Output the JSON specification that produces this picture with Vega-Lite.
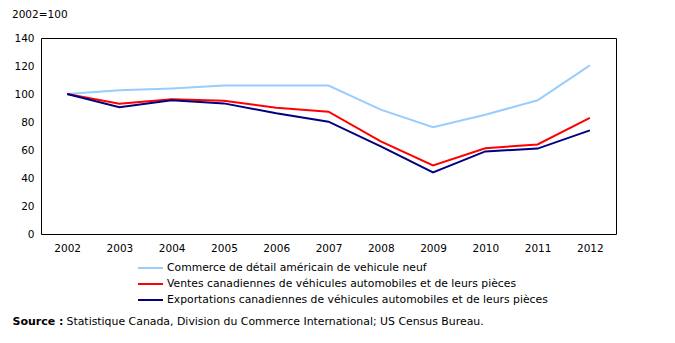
{
  "$schema": "https://vega.github.io/schema/vega-lite/v6.json",
  "width": 575,
  "height": 196,
  "autosize": {"type": "none"},
  "padding": {"left": 41, "top": 38, "right": 59, "bottom": 109},
  "background": "white",
  "config": {
    "font": "DejaVu Sans",
    "view": {"stroke": "black", "strokeWidth": 1},
    "axis": {"grid": false, "domain": false, "ticks": false, "labelFont": "DejaVu Sans", "labelFontSize": 10.5, "labelColor": "black"},
    "legend": {"labelFont": "DejaVu Sans", "labelFontSize": 10.8, "labelColor": "black"}
  },
  "title": {
    "text": "2002=100",
    "anchor": "start",
    "frame": "group",
    "dx": -29,
    "offset": 13,
    "fontSize": 10.5,
    "fontWeight": "normal",
    "color": "black"
  },
  "data": {
    "values": [
      {"annee": "2002", "serie": "Commerce de détail américain de vehicule neuf", "indice": 100},
      {"annee": "2003", "serie": "Commerce de détail américain de vehicule neuf", "indice": 102.6},
      {"annee": "2004", "serie": "Commerce de détail américain de vehicule neuf", "indice": 104},
      {"annee": "2005", "serie": "Commerce de détail américain de vehicule neuf", "indice": 106},
      {"annee": "2006", "serie": "Commerce de détail américain de vehicule neuf", "indice": 106},
      {"annee": "2007", "serie": "Commerce de détail américain de vehicule neuf", "indice": 106},
      {"annee": "2008", "serie": "Commerce de détail américain de vehicule neuf", "indice": 88.8},
      {"annee": "2009", "serie": "Commerce de détail américain de vehicule neuf", "indice": 76.2},
      {"annee": "2010", "serie": "Commerce de détail américain de vehicule neuf", "indice": 85.2},
      {"annee": "2011", "serie": "Commerce de détail américain de vehicule neuf", "indice": 95.5},
      {"annee": "2012", "serie": "Commerce de détail américain de vehicule neuf", "indice": 120.5},
      {"annee": "2002", "serie": "Ventes canadiennes de véhicules automobiles et de leurs pièces", "indice": 100},
      {"annee": "2003", "serie": "Ventes canadiennes de véhicules automobiles et de leurs pièces", "indice": 93.1},
      {"annee": "2004", "serie": "Ventes canadiennes de véhicules automobiles et de leurs pièces", "indice": 96.2},
      {"annee": "2005", "serie": "Ventes canadiennes de véhicules automobiles et de leurs pièces", "indice": 95.2},
      {"annee": "2006", "serie": "Ventes canadiennes de véhicules automobiles et de leurs pièces", "indice": 90.2},
      {"annee": "2007", "serie": "Ventes canadiennes de véhicules automobiles et de leurs pièces", "indice": 87.4},
      {"annee": "2008", "serie": "Ventes canadiennes de véhicules automobiles et de leurs pièces", "indice": 66.2},
      {"annee": "2009", "serie": "Ventes canadiennes de véhicules automobiles et de leurs pièces", "indice": 49},
      {"annee": "2010", "serie": "Ventes canadiennes de véhicules automobiles et de leurs pièces", "indice": 61.2},
      {"annee": "2011", "serie": "Ventes canadiennes de véhicules automobiles et de leurs pièces", "indice": 64},
      {"annee": "2012", "serie": "Ventes canadiennes de véhicules automobiles et de leurs pièces", "indice": 82.9},
      {"annee": "2002", "serie": "Exportations canadiennes de véhicules automobiles et de leurs pièces", "indice": 100},
      {"annee": "2003", "serie": "Exportations canadiennes de véhicules automobiles et de leurs pièces", "indice": 90.5},
      {"annee": "2004", "serie": "Exportations canadiennes de véhicules automobiles et de leurs pièces", "indice": 95.5},
      {"annee": "2005", "serie": "Exportations canadiennes de véhicules automobiles et de leurs pièces", "indice": 93.3},
      {"annee": "2006", "serie": "Exportations canadiennes de véhicules automobiles et de leurs pièces", "indice": 86.2},
      {"annee": "2007", "serie": "Exportations canadiennes de véhicules automobiles et de leurs pièces", "indice": 80.2},
      {"annee": "2008", "serie": "Exportations canadiennes de véhicules automobiles et de leurs pièces", "indice": 62.6},
      {"annee": "2009", "serie": "Exportations canadiennes de véhicules automobiles et de leurs pièces", "indice": 44},
      {"annee": "2010", "serie": "Exportations canadiennes de véhicules automobiles et de leurs pièces", "indice": 59},
      {"annee": "2011", "serie": "Exportations canadiennes de véhicules automobiles et de leurs pièces", "indice": 61},
      {"annee": "2012", "serie": "Exportations canadiennes de véhicules automobiles et de leurs pièces", "indice": 74}
    ]
  },
  "mark": {"type": "line", "strokeWidth": 2},
  "encoding": {
    "x": {
      "field": "annee",
      "type": "ordinal",
      "scale": {"type": "point", "padding": 0.5},
      "axis": {
        "labelAngle": 0,
        "labelPadding": 9,
        "title": "Statistique Canada, Division du Commerce International; US Census Bureau.",
        "titleFont": "DejaVu Sans",
        "titleFontSize": 10.9,
        "titleFontWeight": "normal",
        "titleColor": "black",
        "titleAlign": "left",
        "titleBaseline": "middle",
        "titleAnchor": "start",
        "titleX": 25,
        "titleY": 87
      }
    },
    "y": {
      "field": "indice",
      "type": "quantitative",
      "scale": {"domain": [0, 140]},
      "axis": {
        "values": [0, 20, 40, 60, 80, 100, 120, 140],
        "labelPadding": 7,
        "title": "Source :",
        "titleAngle": 0,
        "titleFont": "DejaVu Sans",
        "titleFontSize": 11,
        "titleFontWeight": "bold",
        "titleColor": "black",
        "titleAlign": "left",
        "titleBaseline": "middle",
        "titleX": -29,
        "titleY": 283
      }
    },
    "color": {
      "field": "serie",
      "type": "nominal",
      "sort": [
        "Commerce de détail américain de vehicule neuf",
        "Ventes canadiennes de véhicules automobiles et de leurs pièces",
        "Exportations canadiennes de véhicules automobiles et de leurs pièces"
      ],
      "scale": {
        "domain": [
          "Commerce de détail américain de vehicule neuf",
          "Ventes canadiennes de véhicules automobiles et de leurs pièces",
          "Exportations canadiennes de véhicules automobiles et de leurs pièces"
        ],
        "range": ["#99ccff", "#ff0000", "#000080"]
      },
      "legend": {
        "title": null,
        "orient": "none",
        "legendX": 96,
        "legendY": 222,
        "symbolType": "stroke",
        "symbolSize": 625,
        "symbolStrokeWidth": 2,
        "clipHeight": 16,
        "rowPadding": 0,
        "labelOffset": 3,
        "labelLimit": 600
      }
    }
  }
}
